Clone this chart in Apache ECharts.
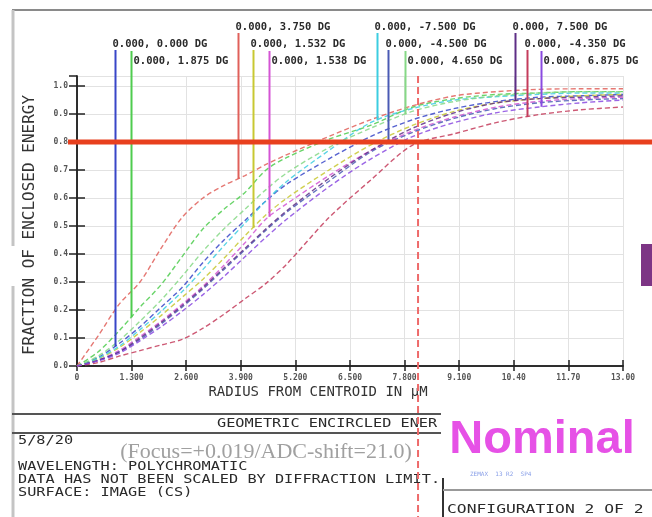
<!DOCTYPE html>
<html>
<head>
<meta charset="utf-8">
<script src="https://cdn.jsdelivr.net/npm/echarts@6/dist/echarts.min.js"></script>
<style>
  html, body { margin: 0; padding: 0; background: #ffffff; }
  #chart { width: 652px; height: 517px; }
</style>
</head>
<body>
<div id="chart"></div>
<script>
// Radius samples (µm) shared by every field curve
const radius = [0, 0.5, 1, 1.5, 2, 2.5, 3, 3.5, 4, 4.5, 5, 6, 7, 8, 9, 10, 11, 12, 13];

// Fraction of enclosed energy per field
const energyF1  = [0, 0.030, 0.080, 0.140, 0.210, 0.280, 0.370, 0.450, 0.520, 0.590, 0.650, 0.740, 0.820, 0.880, 0.920, 0.945, 0.960, 0.965, 0.970];
const energyF2  = [0, 0.050, 0.125, 0.210, 0.290, 0.390, 0.490, 0.560, 0.620, 0.700, 0.745, 0.810, 0.860, 0.925, 0.955, 0.970, 0.975, 0.980, 0.980];
const energyF3  = [0, 0.107, 0.220, 0.300, 0.420, 0.530, 0.600, 0.645, 0.680, 0.720, 0.755, 0.820, 0.880, 0.930, 0.965, 0.980, 0.988, 0.990, 0.990];
const energyF4  = [0, 0.025, 0.065, 0.120, 0.180, 0.245, 0.310, 0.385, 0.465, 0.540, 0.600, 0.700, 0.790, 0.860, 0.910, 0.940, 0.955, 0.965, 0.970];
const energyF5  = [0, 0.020, 0.055, 0.105, 0.160, 0.220, 0.285, 0.360, 0.440, 0.525, 0.580, 0.680, 0.770, 0.840, 0.890, 0.925, 0.945, 0.955, 0.960];
const energyF6  = [0, 0.028, 0.070, 0.130, 0.195, 0.265, 0.345, 0.430, 0.510, 0.590, 0.660, 0.770, 0.870, 0.920, 0.950, 0.962, 0.970, 0.975, 0.975];
const energyF7  = [0, 0.020, 0.050, 0.095, 0.150, 0.210, 0.275, 0.345, 0.415, 0.485, 0.550, 0.660, 0.765, 0.835, 0.885, 0.920, 0.940, 0.950, 0.955];
const energyF8  = [0, 0.035, 0.090, 0.160, 0.235, 0.320, 0.410, 0.490, 0.560, 0.630, 0.690, 0.780, 0.850, 0.910, 0.945, 0.965, 0.975, 0.980, 0.980];
const energyF9  = [0, 0.020, 0.050, 0.100, 0.155, 0.215, 0.280, 0.350, 0.420, 0.490, 0.555, 0.670, 0.770, 0.850, 0.905, 0.940, 0.955, 0.960, 0.965];
const energyF10 = [0, 0.012, 0.035, 0.055, 0.075, 0.095, 0.135, 0.185, 0.240, 0.295, 0.365, 0.530, 0.665, 0.790, 0.830, 0.870, 0.898, 0.915, 0.925];
const energyF11 = [0, 0.018, 0.045, 0.090, 0.140, 0.195, 0.255, 0.320, 0.390, 0.460, 0.525, 0.640, 0.740, 0.820, 0.870, 0.905, 0.925, 0.940, 0.950];

// Field labels, colours and the radius where each label's pointer drops onto its curve
const fieldLabels = [
  '0.000, 0.000 DG', '0.000, 1.875 DG', '0.000, 3.750 DG', '0.000, 1.532 DG',
  '0.000, 1.538 DG', '0.000, -7.500 DG', '0.000, -4.500 DG', '0.000, 4.650 DG',
  '0.000, 7.500 DG', '0.000, -4.350 DG', '0.000, 6.875 DG'
];
const fieldColors = [
  '#3846c8', '#4fcc4f', '#e0605a', '#c8c832', '#d455d4', '#3ccde0',
  '#4a5ab4', '#86d886', '#5e2e86', '#c43c5c', '#8a4ae0'
];
const pointerRadius = [0.90, 1.29, 3.83, 4.19, 4.57, 7.14, 7.40, 7.81, 10.43, 10.71, 11.05];
const labelRow      = [1, 2, 0, 1, 2, 0, 1, 2, 0, 1, 2];

// Axis tick labels
const xTickLabels = ['0', '1.300', '2.600', '3.900', '5.200', '6.500', '7.800', '9.100', '10.40', '11.70', '13.00'];
const xStep = 1.3;
const xMax = 13;
const yStep = 0.1;
const yMax = 1.0357;

// 80% enclosed-energy reference
const ee80Level = 0.8;
const ee80Radius = 8.12;

const fieldEnergy = [energyF1, energyF2, energyF3, energyF4, energyF5, energyF6,
                     energyF7, energyF8, energyF9, energyF10, energyF11];

const MONO = '"DejaVu Sans Mono", monospace';

const chart = echarts.init(document.getElementById('chart'), null, { renderer: 'canvas' });

const axisText = { fontFamily: MONO, fontSize: 8, fontWeight: 'bold', color: '#555' };

chart.setOption({
  animation: false,
  backgroundColor: '#ffffff',
  grid: { left: 77, right: 29, top: 76, bottom: 151, containLabel: false, outerBoundsMode: 'none' },
  xAxis: [
    {
      type: 'value', min: 0, max: xMax, interval: xStep, position: 'bottom',
      axisLine: { show: true, lineStyle: { color: '#222', width: 1.5 } },
      axisTick: { show: true, inside: true, length: 6, lineStyle: { color: '#222', width: 1.5 } },
      splitLine: { show: true, lineStyle: { color: '#e2e2e2', width: 1 } },
      axisLabel: Object.assign({
        margin: 8,
        formatter: v => xTickLabels[Math.round(v / xStep)] || ''
      }, axisText)
    },
    {
      type: 'value', min: 0, max: xMax, interval: xStep, position: 'top',
      axisLine: { show: true, lineStyle: { color: '#222', width: 1.5 } },
      axisTick: { show: true, inside: true, length: 5, lineStyle: { color: '#222', width: 1.5 } },
      splitLine: { show: false }, axisLabel: { show: false }
    }
  ],
  yAxis: [
    {
      type: 'value', min: 0, max: yMax, interval: yStep, position: 'left',
      axisLine: { show: true, lineStyle: { color: '#222', width: 1.5 } },
      axisTick: { show: true, inside: true, length: 8, lineStyle: { color: '#222', width: 1.5 } },
      splitLine: { show: true, lineStyle: { color: '#e2e2e2', width: 1 } },
      axisLabel: Object.assign({
        margin: 9, showMaxLabel: false,
        formatter: v => (Math.abs(v / yStep - Math.round(v / yStep)) < 1e-6 ? v.toFixed(1) : '')
      }, axisText)
    },
    {
      type: 'value', min: 0, max: yMax, interval: yStep, position: 'right',
      axisLine: { show: true, lineStyle: { color: '#222', width: 1.5 } },
      axisTick: { show: true, inside: true, length: 8, lineStyle: { color: '#222', width: 1.5 } },
      splitLine: { show: false }, axisLabel: { show: false }
    }
  ],
  series: fieldEnergy.map((vals, i) => ({
    type: 'line',
    name: fieldLabels[i],
    xAxisIndex: 0, yAxisIndex: 0,
    data: radius.map((r, k) => [r, vals[k]]),
    smooth: 0.3,
    showSymbol: false,
    silent: true,
    z: 2 + i,
    lineStyle: { color: fieldColors[i], width: 1.4, type: [5, 3], opacity: 0.85 }
  }))
});

// Linear read of a curve at a given radius
function energyAt(vals, r) {
  for (let k = 1; k < radius.length; k++) {
    if (r <= radius[k]) {
      const t = (r - radius[k - 1]) / (radius[k] - radius[k - 1]);
      return vals[k - 1] + t * (vals[k] - vals[k - 1]);
    }
  }
  return vals[vals.length - 1];
}

const toPx = (x, y) => chart.convertToPixel({ gridIndex: 0 }, [x, y]);
const W = 652, H = 517;
const rowY = [27, 44, 61];
const gfx = [];

// Field labels with pointer lines down to their curves
fieldLabels.forEach((label, i) => {
  const r = pointerRadius[i];
  const end = toPx(r, energyAt(fieldEnergy[i], r));
  const row = labelRow[i];
  const ty = rowY[row];
  const lx = Math.round(end[0]) + 0.5;
  const top = row === 2 ? 51 : ty + 6;
  gfx.push({
    type: 'line', silent: true, z: 20,
    shape: { x1: lx, y1: top, x2: lx, y2: end[1] },
    style: { stroke: fieldColors[i], lineWidth: 2 }
  });
  gfx.push({
    type: 'text', silent: true, z: 21,
    x: row === 2 ? lx + 2 : lx - 3, y: ty,
    style: { text: label, font: 'bold 10.5px ' + MONO, fill: '#2a2a2a', align: 'left', verticalAlign: 'middle' }
  });
});

// 80% level and the radius where the worst field reaches it
const levelY = toPx(0, ee80Level)[1];
const radiusX = toPx(ee80Radius, 0)[0];
gfx.push({
  type: 'line', silent: true, z: 30,
  shape: { x1: radiusX, y1: 76, x2: radiusX, y2: H },
  style: { stroke: '#ee6a6a', lineWidth: 2, lineDash: [7, 4] }
});
gfx.push({
  type: 'line', silent: true, z: 31,
  shape: { x1: 68, y1: levelY, x2: W, y2: levelY },
  style: { stroke: '#e8401e', lineWidth: 5 }
});

// Window frame
gfx.push({ type: 'line', silent: true, z: 1, shape: { x1: 12, y1: 10, x2: W, y2: 10 }, style: { stroke: '#8a8a8a', lineWidth: 2 } });
gfx.push({ type: 'line', silent: true, z: 1, shape: { x1: 13, y1: 10, x2: 13, y2: 246 }, style: { stroke: '#c4c4c4', lineWidth: 3 } });
gfx.push({ type: 'line', silent: true, z: 1, shape: { x1: 13, y1: 286, x2: 13, y2: H }, style: { stroke: '#c4c4c4', lineWidth: 3 } });
gfx.push({ type: 'rect', silent: true, z: 1, shape: { x: 641, y: 244, width: 11, height: 42 }, style: { fill: '#7d3585' } });

// Axis titles
gfx.push({
  type: 'text', silent: true, z: 10, x: 30, y: 225, rotation: Math.PI / 2,
  style: { text: 'FRACTION OF ENCLOSED ENERGY', font: '16px ' + MONO, fill: '#333', align: 'center', verticalAlign: 'middle' }
});
gfx.push({
  type: 'text', silent: true, z: 10, x: 318, y: 392,
  style: { text: 'RADIUS FROM CENTROID IN µM', font: '14px ' + MONO, fill: '#333', align: 'center', verticalAlign: 'middle' }
});

// Text box under the plot
const boxFont = '12px ' + MONO;
const boxText = (text, x, y, sx) => gfx.push({
  type: 'text', silent: true, z: 10, x: x, y: y, scaleX: sx || 1.27,
  style: { text: text, font: boxFont, fill: '#2a2a2a', align: 'left', verticalAlign: 'middle' }
});
gfx.push({ type: 'line', silent: true, z: 9, shape: { x1: 12, y1: 414, x2: 441, y2: 414 }, style: { stroke: '#555', lineWidth: 2 } });
gfx.push({ type: 'line', silent: true, z: 9, shape: { x1: 12, y1: 433, x2: 441, y2: 433 }, style: { stroke: '#555', lineWidth: 2 } });
boxText('GEOMETRIC ENCIRCLED ENER', 217, 424);
boxText('5/8/20', 18, 441);
boxText('WAVELENGTH: POLYCHROMATIC', 18, 467);
boxText('DATA HAS NOT BEEN SCALED BY DIFFRACTION LIMIT.', 18, 480);
boxText('SURFACE: IMAGE (CS)', 18, 493);
gfx.push({
  type: 'text', silent: true, z: 11, x: 266, y: 452,
  style: { text: '(Focus=+0.019/ADC-shift=21.0)', font: '22px "Liberation Serif", serif', fill: '#a0a0a0', align: 'center', verticalAlign: 'middle' }
});
gfx.push({ type: 'line', silent: true, z: 9, shape: { x1: 443, y1: 478, x2: 443, y2: H }, style: { stroke: '#333', lineWidth: 2 } });
gfx.push({ type: 'line', silent: true, z: 9, shape: { x1: 443, y1: 490, x2: W, y2: 490 }, style: { stroke: '#999', lineWidth: 2 } });
boxText('CONFIGURATION 2 OF 2', 447, 510, 1.36);
gfx.push({
  type: 'text', silent: true, z: 12, x: 542, y: 440,
  style: { text: 'Nominal', font: 'bold 47px "Liberation Sans", Arial, sans-serif', fill: '#e651e6', align: 'center', verticalAlign: 'middle' }
});
gfx.push({
  type: 'text', silent: true, z: 12, x: 470, y: 474,
  style: { text: 'ZEMAX  13 R2  SP4', font: '6px ' + MONO, fill: '#8aa0e8', align: 'left', verticalAlign: 'middle' }
});

chart.setOption({ graphic: gfx });
</script>
</body>
</html>
